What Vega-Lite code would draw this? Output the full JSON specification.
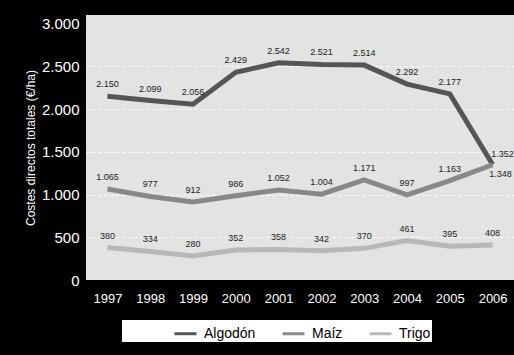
{
  "$schema": "https://vega.github.io/schema/vega-lite/v6.json",
  "width": 428,
  "height": 265,
  "autosize": {"type": "none"},
  "padding": {"left": 86, "top": 15, "right": 0, "bottom": 75},
  "background": "#000000",
  "config": {
    "locale": {"number": {"decimal": ",", "thousands": ".", "grouping": [3], "currency": ["", " €"]}},
    "font": "Liberation Sans",
    "view": {"fill": "#e3e3e3", "stroke": null}
  },
  "data": {
    "values": [
      {"year": "1997", "crop": "Algodón", "value": 2150},
      {"year": "1998", "crop": "Algodón", "value": 2099},
      {"year": "1999", "crop": "Algodón", "value": 2056},
      {"year": "2000", "crop": "Algodón", "value": 2429},
      {"year": "2001", "crop": "Algodón", "value": 2542},
      {"year": "2002", "crop": "Algodón", "value": 2521},
      {"year": "2003", "crop": "Algodón", "value": 2514},
      {"year": "2004", "crop": "Algodón", "value": 2292},
      {"year": "2005", "crop": "Algodón", "value": 2177},
      {"year": "2006", "crop": "Algodón", "value": 1352},
      {"year": "1997", "crop": "Maíz", "value": 1065},
      {"year": "1998", "crop": "Maíz", "value": 977},
      {"year": "1999", "crop": "Maíz", "value": 912},
      {"year": "2000", "crop": "Maíz", "value": 986},
      {"year": "2001", "crop": "Maíz", "value": 1052},
      {"year": "2002", "crop": "Maíz", "value": 1004},
      {"year": "2003", "crop": "Maíz", "value": 1171},
      {"year": "2004", "crop": "Maíz", "value": 997},
      {"year": "2005", "crop": "Maíz", "value": 1163},
      {"year": "2006", "crop": "Maíz", "value": 1348},
      {"year": "1997", "crop": "Trigo", "value": 380},
      {"year": "1998", "crop": "Trigo", "value": 334},
      {"year": "1999", "crop": "Trigo", "value": 280},
      {"year": "2000", "crop": "Trigo", "value": 352},
      {"year": "2001", "crop": "Trigo", "value": 358},
      {"year": "2002", "crop": "Trigo", "value": 342},
      {"year": "2003", "crop": "Trigo", "value": 370},
      {"year": "2004", "crop": "Trigo", "value": 461},
      {"year": "2005", "crop": "Trigo", "value": 395},
      {"year": "2006", "crop": "Trigo", "value": 408}
    ]
  },
  "encoding": {
    "x": {
      "field": "year",
      "type": "ordinal",
      "scale": {"type": "point", "padding": 0.5},
      "axis": {
        "title": null,
        "labelAngle": 0,
        "labelColor": "#ffffff",
        "labelFontSize": 13,
        "labelPadding": 12,
        "ticks": false,
        "domain": false,
        "grid": false
      }
    },
    "y": {
      "field": "value",
      "type": "quantitative",
      "scale": {"domain": [0, 3100], "nice": false},
      "axis": {
        "title": "Costes directos totales (€/ha)",
        "titleColor": "#ffffff",
        "titleFontSize": 12,
        "titleFontWeight": "normal",
        "titlePadding": 4,
        "values": [0, 500, 1000, 1500, 2000, 2500, 3000],
        "format": ",d",
        "labelColor": "#ffffff",
        "labelFontSize": 15,
        "labelPadding": 7,
        "ticks": false,
        "domain": false,
        "grid": true,
        "gridColor": "#ffffff",
        "gridDash": [3, 3],
        "gridWidth": 1,
        "gridOpacity": {"condition": {"test": "datum.value == 0 || datum.value >= 3000", "value": 0}, "value": 1}
      }
    }
  },
  "layer": [
    {
      "mark": {"type": "line", "strokeWidth": 5},
      "encoding": {
        "color": {
          "field": "crop",
          "type": "nominal",
          "scale": {"domain": ["Algodón", "Maíz", "Trigo"], "range": ["#555555", "#888888", "#b8b8b8"]},
          "legend": {
            "title": "\u00a0",
            "titleOrient": "left",
            "titleFontSize": 11,
            "titlePadding": 50,
            "orient": "none",
            "legendX": 36,
            "legendY": 305,
            "direction": "horizontal",
            "fillColor": "#ffffff",
            "padding": 1,
            "symbolType": "stroke",
            "symbolStrokeWidth": 3,
            "symbolSize": 484,
            "labelFontSize": 14,
            "labelColor": "#000000",
            "labelOffset": 6,
            "columnPadding": 20
          }
        }
      }
    },
    {
      "transform": [{"filter": "!(datum.year == '2006' && datum.crop != 'Trigo')"}],
      "mark": {"type": "text", "dy": -12, "fontSize": 9, "color": "#222222"},
      "encoding": {"text": {"field": "value", "type": "quantitative", "format": ",d"}}
    },
    {
      "transform": [{"filter": "datum.year == '2006' && datum.crop == 'Algodón'"}],
      "mark": {"type": "text", "dx": 10, "dy": -10, "fontSize": 9, "color": "#222222"},
      "encoding": {"text": {"field": "value", "type": "quantitative", "format": ",d"}}
    },
    {
      "transform": [{"filter": "datum.year == '2006' && datum.crop == 'Maíz'"}],
      "mark": {"type": "text", "dx": 8, "dy": 9, "fontSize": 9, "color": "#222222"},
      "encoding": {"text": {"field": "value", "type": "quantitative", "format": ",d"}}
    }
  ]
}
